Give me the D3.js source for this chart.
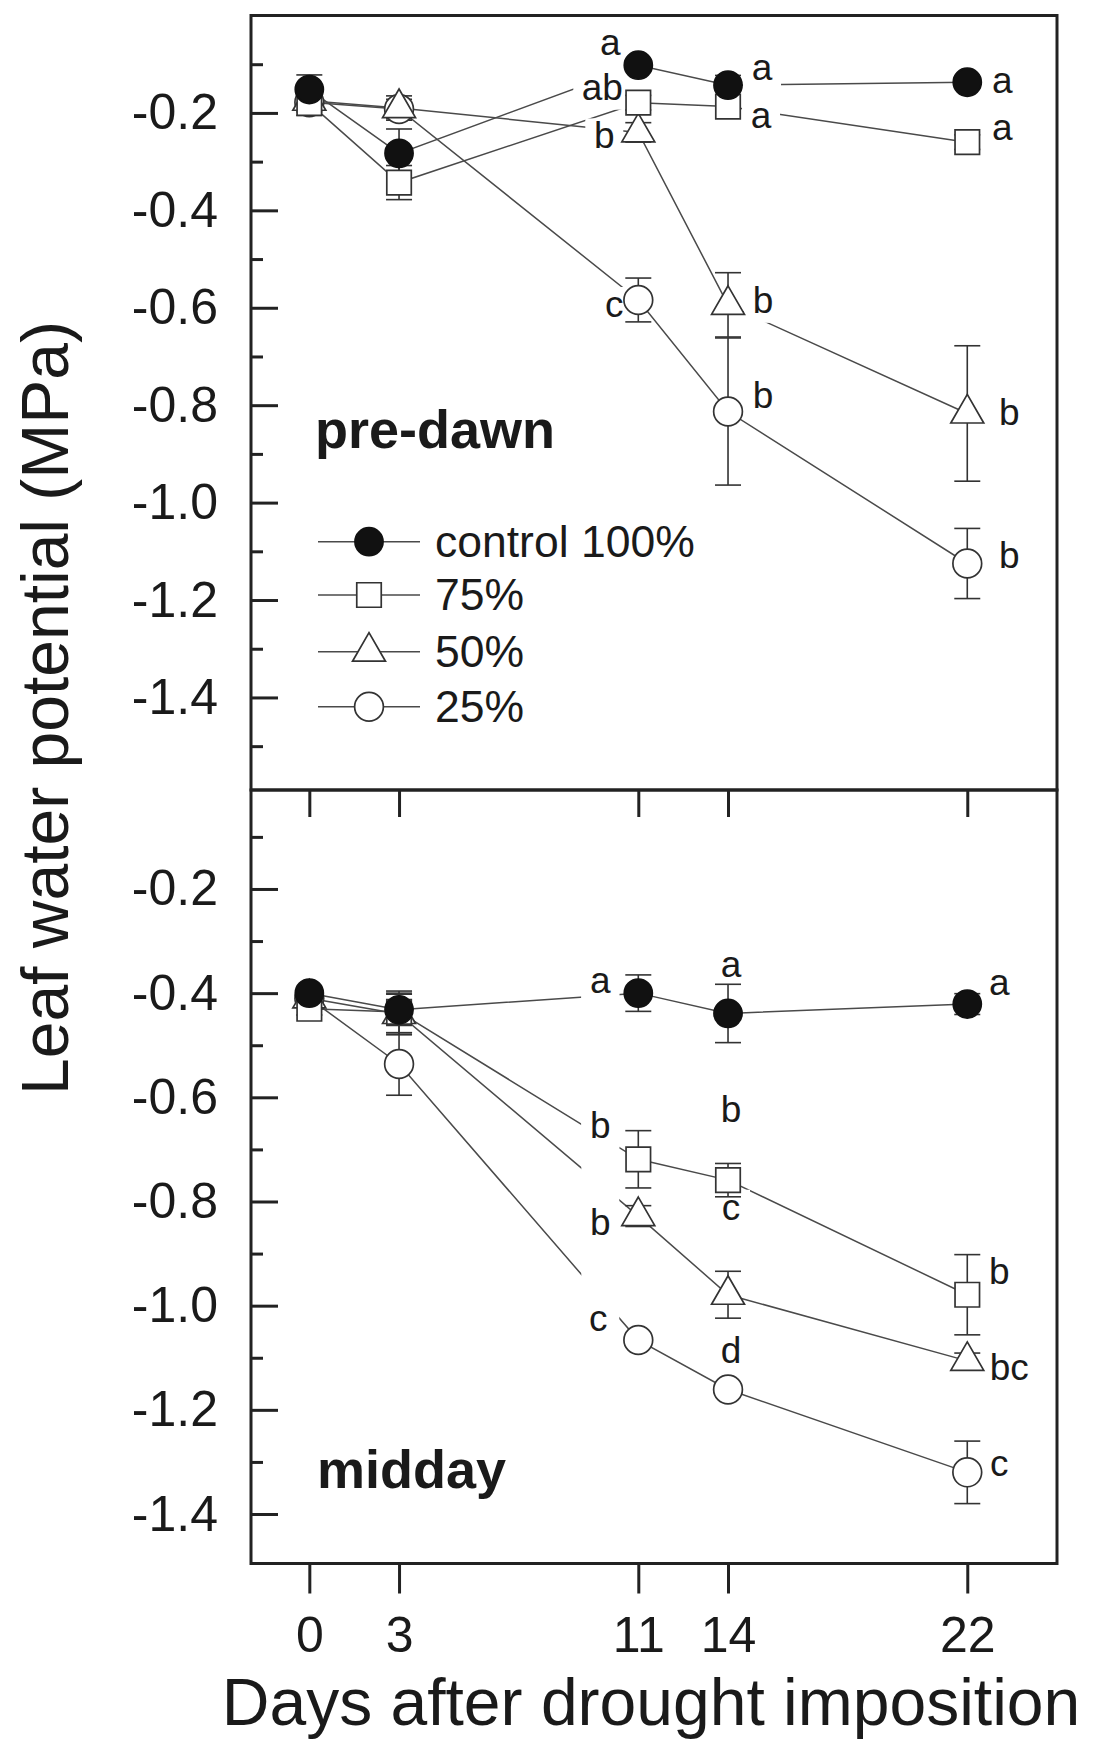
<!DOCTYPE html>
<html>
<head>
<meta charset="utf-8">
<script src="https://cdn.jsdelivr.net/npm/d3@7"></script>
<style>
  body { margin: 0; background: #fff; }
  text { font-family: "Liberation Sans", Arial, sans-serif; fill: #1a1a1a; }
</style>
</head>
<body>
<script>
// days after drought imposition
const days = [0, 3, 11, 14, 22];
const treatments = ["control 100%", "75%", "50%", "25%"];

// pre-dawn leaf water potential (MPa): means, errors, letters
const predawnControl = [-0.152, -0.283, -0.102, -0.143, -0.137];
const predawn75      = [-0.180, -0.343, -0.179, -0.187, -0.260];
const predawn50      = [-0.175, -0.190, -0.240, -0.594, -0.817];
const predawn25      = [-0.178, -0.192, -0.584, -0.813, -1.125];
const predawnErrControl = [0.030, 0.050, 0.012, 0.020, 0.012];
const predawnErr75      = [0.025, 0.035, 0.015, 0.020, 0.015];
const predawnErr50      = [0.020, 0.025, 0.020, 0.066, 0.139];
const predawnErr25      = [0.020, 0.020, 0.045, 0.151, 0.072];
const predawnLetters = [
  ["", "", "a", "a", "a"],
  ["", "", "ab", "a", "a"],
  ["", "", "b", "b", "b"],
  ["", "", "c", "b", "b"]
];

// midday leaf water potential (MPa)
const middayControl = [-0.400, -0.432, -0.400, -0.439, -0.421];
const midday75      = [-0.430, -0.436, -0.719, -0.759, -0.979];
const midday50      = [-0.410, -0.440, -0.828, -0.979, -1.106];
const midday25      = [-0.410, -0.536, -1.066, -1.161, -1.320];
const middayErrControl = [0.010, 0.030, 0.035, 0.056, 0.020];
const middayErr75      = [0.012, 0.040, 0.055, 0.032, 0.077];
const middayErr50      = [0.010, 0.040, 0.020, 0.045, 0.015];
const middayErr25      = [0.010, 0.060, 0.010, 0.012, 0.060];
const middayLetters = [
  ["", "", "a", "a", "a"],
  ["", "", "b", "b", "b"],
  ["", "", "b", "c", "bc"],
  ["", "", "c", "d", "c"]
];

const majorTicks = [-0.2, -0.4, -0.6, -0.8, -1.0, -1.2, -1.4];
const minorTicksPredawn = [-0.1, -0.3, -0.5, -0.7, -0.9, -1.1, -1.3, -1.5];
const minorTicksMidday = [-0.1, -0.3, -0.5, -0.7, -0.9, -1.1, -1.3];

// letter placement relative to the point: [dx, baseline dy]
const predawnLetterPos = [
  [null, null, [-28, -10], [34, -5], [35, 11]],
  [null, null, [-36, -3], [33, 21], [35, -2]],
  [null, null, [-34, 16], [35, 8], [42, 12]],
  [null, null, [-24, 17], [35, -4], [42, 5]]
];
const middayLetterPos = [
  [null, null, [-38, 0], [3, -36], [32, -9]],
  [null, null, [-38, -21], [3, -58], [32, -11]],
  [null, null, [-38, 19], [3, -75], [42, 19]],
  [null, null, [-40, -9], [3, -27], [32, 4]]
];

const width = 1094, height = 1741;
const frameL = 251, frameR = 1057, frameT = 15.5, frameM = 790, frameB = 1563.5;
const ink = "#222";

const svg = d3.select("body").append("svg")
  .attr("width", width).attr("height", height);
svg.append("rect").attr("width", width).attr("height", height).attr("fill", "#fff");

const x = d3.scaleLinear().domain([-1.95, 25]).range([frameL, frameR]);

const markerTypes = [
  { type: d3.symbolCircle, size: 620, fill: "#111", stroke: "#111" },
  { type: d3.symbolSquare, size: 600, fill: "#fff", stroke: "#333" },
  { type: d3.symbolTriangle, size: 470, fill: "#fff", stroke: "#333" },
  { type: d3.symbolCircle, size: 650, fill: "#fff", stroke: "#333" }
];

function drawPanel(cfg) {
  const y = d3.scaleLinear().domain(cfg.domain).range([cfg.y0, cfg.y1]);
  const g = svg.append("g");

  // y axis, ticks inward
  g.append("g").attr("transform", `translate(${frameL},0)`)
    .call(d3.axisLeft(y).tickValues(majorTicks).tickSize(-27).tickPadding(33)
      .tickFormat(d => d.toFixed(1)))
    .call(a => a.select(".domain").remove())
    .call(a => a.selectAll("line").attr("stroke", ink).attr("stroke-width", 3))
    .call(a => a.selectAll("text").attr("font-size", 50).attr("fill", "#1a1a1a")
      .attr("font-family", '"Liberation Sans", Arial, sans-serif'));
  g.append("g").attr("transform", `translate(${frameL},0)`)
    .call(d3.axisLeft(y).tickValues(cfg.minor).tickSize(-12).tickFormat(""))
    .call(a => a.select(".domain").remove())
    .call(a => a.selectAll("line").attr("stroke", ink).attr("stroke-width", 3));

  const series = cfg.means.map((m, s) => days.map((d, i) => ({
    d, v: m[i], e: cfg.errs[s][i], letter: cfg.letters[s][i], pos: cfg.letterPos[s][i]
  })));

  const line = d3.line().x(p => x(p.d)).y(p => y(p.v));
  g.selectAll(".series").data(series).join("path")
    .attr("d", line).attr("fill", "none")
    .attr("stroke", "#4a4a4a").attr("stroke-width", 1.5);

  const lettersData = series.flat().filter(p => p.letter);

  // the letters left of day 11 sit in one white text box in the midday panel
  if (cfg.letterColumn != null) {
    const col = lettersData.filter(p => p.d === cfg.letterColumn && p.pos[0] < 0);
    const ys = col.map(p => y(p.v) + p.pos[1]);
    g.append("rect")
      .attr("x", x(cfg.letterColumn) - 57).attr("width", 38)
      .attr("y", d3.min(ys) - 32).attr("height", d3.max(ys) - d3.min(ys) + 36)
      .attr("fill", "#fff");
  }

  // significance letters with white boxes
  const lg = g.selectAll(".letter").data(lettersData).join("g")
    .attr("transform", p => `translate(${x(p.d) + p.pos[0]},${y(p.v) + p.pos[1]})`);
  lg.append("rect")
    .attr("x", p => -p.letter.length * 10 - 9).attr("y", -30)
    .attr("width", p => p.letter.length * 20 + 18).attr("height", 40)
    .attr("fill", "#fff");
  lg.append("text").attr("text-anchor", "middle").attr("font-size", 37)
    .text(p => p.letter);

  // error bars
  const eb = g.selectAll(".eb").data(series.flat()).join("g").attr("stroke", "#333").attr("stroke-width", 1.6);
  eb.append("line").attr("x1", p => x(p.d)).attr("x2", p => x(p.d))
    .attr("y1", p => y(p.v - p.e)).attr("y2", p => y(p.v + p.e));
  eb.append("line").attr("x1", p => x(p.d) - 13).attr("x2", p => x(p.d) + 13)
    .attr("y1", p => y(p.v - p.e)).attr("y2", p => y(p.v - p.e));
  eb.append("line").attr("x1", p => x(p.d) - 13).attr("x2", p => x(p.d) + 13)
    .attr("y1", p => y(p.v + p.e)).attr("y2", p => y(p.v + p.e));

  // markers, 25% first so control sits on top
  [3, 2, 1, 0].forEach(s => {
    const mk = markerTypes[s];
    g.append("g").selectAll("path").data(series[s]).join("path")
      .attr("transform", p => `translate(${x(p.d)},${y(p.v)})`)
      .attr("d", d3.symbol().type(mk.type).size(mk.size))
      .attr("fill", mk.fill).attr("stroke", mk.stroke).attr("stroke-width", 1.7);
  });

  g.append("text").attr("x", cfg.labelX).attr("y", cfg.labelY)
    .attr("font-size", 54).attr("font-weight", "bold").text(cfg.label);

  return y;
}

drawPanel({
  domain: [0, -1.59], y0: frameT, y1: frameM, minor: minorTicksPredawn,
  means: [predawnControl, predawn75, predawn50, predawn25],
  errs: [predawnErrControl, predawnErr75, predawnErr50, predawnErr25],
  letters: predawnLetters, letterPos: predawnLetterPos,
  label: "pre-dawn", labelX: 315, labelY: 448
});
drawPanel({
  domain: [-0.01, -1.495], y0: frameM, y1: frameB, minor: minorTicksMidday,
  means: [middayControl, midday75, midday50, midday25],
  errs: [middayErrControl, middayErr75, middayErr50, middayErr25],
  letters: middayLetters, letterPos: middayLetterPos, letterColumn: 11,
  label: "midday", labelX: 317, labelY: 1488
});

// x axes: inward ticks at top of lower panel, outward at bottom
svg.append("g").attr("transform", `translate(0,${frameM})`)
  .call(d3.axisTop(x).tickValues(days).tickSize(-27).tickFormat(""))
  .call(a => a.select(".domain").remove())
  .call(a => a.selectAll("line").attr("stroke", ink).attr("stroke-width", 3));
svg.append("g").attr("transform", `translate(0,${frameB})`)
  .call(d3.axisBottom(x).tickValues(days).tickSize(30).tickPadding(23))
  .call(a => a.select(".domain").remove())
  .call(a => a.selectAll("line").attr("stroke", ink).attr("stroke-width", 3))
  .call(a => a.selectAll("text").attr("font-size", 50).attr("fill", "#1a1a1a")
    .attr("font-family", '"Liberation Sans", Arial, sans-serif'));

// frames
[[frameT, frameM], [frameM, frameB]].forEach(([a, b]) => {
  svg.append("rect").attr("x", frameL).attr("y", a)
    .attr("width", frameR - frameL).attr("height", b - a)
    .attr("fill", "none").attr("stroke", ink).attr("stroke-width", 3);
});

// legend
const legendRows = [541.7, 595, 651.7, 706.7];
const legend = svg.append("g");
treatments.forEach((t, s) => {
  const row = legend.append("g").attr("transform", `translate(0,${legendRows[s]})`);
  row.append("line").attr("x1", 318).attr("x2", 420).attr("y1", 0).attr("y2", 0)
    .attr("stroke", "#4a4a4a").attr("stroke-width", 1.5);
  const mk = markerTypes[s];
  row.append("path").attr("transform", "translate(369,0)")
    .attr("d", d3.symbol().type(mk.type).size(mk.size))
    .attr("fill", mk.fill).attr("stroke", mk.stroke).attr("stroke-width", 1.7);
  row.append("text").attr("x", 435).attr("y", 15).attr("font-size", 44.5).text(t);
});

// axis titles
svg.append("text").attr("transform", "translate(68,708) rotate(-90)")
  .attr("text-anchor", "middle").attr("font-size", 66)
  .text("Leaf water potential (MPa)");
svg.append("text").attr("x", 651).attr("y", 1725)
  .attr("text-anchor", "middle").attr("font-size", 66)
  .text("Days after drought imposition");
</script>
</body>
</html>
